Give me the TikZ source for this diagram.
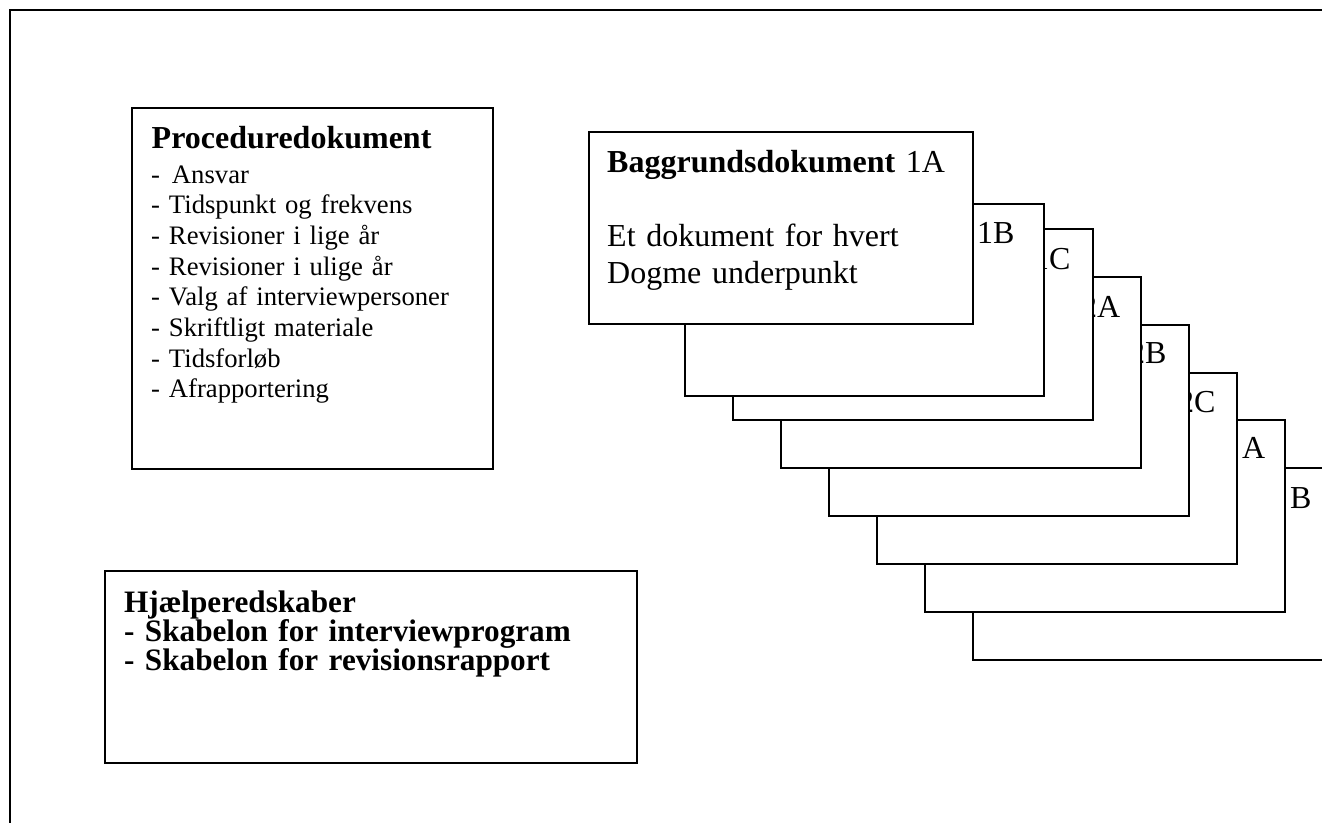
\documentclass[tikz,border=0pt]{standalone}
\usepackage{fontspec}
\setmainfont{Liberation Serif}
\usepackage{tikz}
\tikzstyle{docpage} = [rectangle, draw, line width=1.6pt, fill=white, inner sep=0pt, anchor=north west]
\tikzstyle{pagelabel} = [anchor=base west, inner sep=0pt, font=\fontsize{32}{37}\selectfont]
\tikzstyle{boxtext} = [anchor=base west, inner sep=0pt, align=left, text width=500pt]

\begin{document}
\begin{tikzpicture}[x=1pt, y=-1pt]
    \useasboundingbox (0,0) rectangle (1322,822);
    % ramme
    \draw[line width=2pt] (1330,10) -- (10,10) -- (10,830);

    % proceduredokument
    \node(proc)[docpage, minimum width=361pt, minimum height=361pt] at (131,107) {};
    \node(proctitle)[boxtext, font=\bfseries\fontsize{32}{37}\selectfont] at ([shift={(20.5,41)}]proc.north west) {Proceduredokument};
    \node(proclist)[boxtext, font=\fontsize{26.67}{30.7}\selectfont] at ([shift={(20,76)}]proc.north west) {- \kern3pt Ansvar\\- Tidspunkt og frekvens\\- Revisioner i lige år\\- Revisioner i ulige år\\- Valg af interviewpersoner\\- Skriftligt materiale\\- Tidsforløb\\- Afrapportering};

    % hjaelperedskaber
    \node(tools)[docpage, minimum width=532pt, minimum height=192pt] at (104,570) {};
    \node(toolstext)[boxtext, font=\bfseries\fontsize{31.2}{29}\selectfont] at ([shift={(20,42)}]tools.north west) {\lineskip=0pt\lineskiplimit=-20pt Hjælperedskaber\\- Skabelon for interviewprogram\\- Skabelon for revisionsrapport};

    % baggrundsdokumenter, bagfra
    \node(p8)[docpage, minimum width=360pt, minimum height=192pt] at (972,467) {};
    \node(lab8)[pagelabel] at ([shift={(318,41)}]p8.north west) {B};
    \node(p7)[docpage, minimum width=360pt, minimum height=192pt] at (924,419) {};
    \node(lab7)[pagelabel] at ([shift={(318,39)}]p7.north west) {A};
    \node(p6)[docpage, minimum width=360pt, minimum height=191pt] at (876,372) {};
    \node(lab6)[pagelabel] at ([shift={(302,40)}]p6.north west) {2C};
    \node(p5)[docpage, minimum width=360pt, minimum height=191pt] at (828,324) {};
    \node(lab5)[pagelabel] at ([shift={(301,39)}]p5.north west) {2B};
    \node(p4)[docpage, minimum width=360pt, minimum height=191pt] at (780,276) {};
    \node(lab4)[pagelabel] at ([shift={(301,41)}]p4.north west) {2A};
    \node(p3)[docpage, minimum width=360pt, minimum height=191pt] at (732,228) {};
    \node(lab3)[pagelabel] at ([shift={(301,41)}]p3.north west) {1C};
    \node(p2)[docpage, minimum width=359pt, minimum height=192pt] at (684,203) {};
    \node(lab2)[pagelabel] at ([shift={(293,40)}]p2.north west) {1B};
    \node(p1)[docpage, minimum width=384pt, minimum height=192pt] at (588,131) {};
    \node(bgtext)[boxtext, font=\fontsize{32}{37}\selectfont] at ([shift={(19,41)}]p1.north west) {\textbf{Baggrundsdokument} 1A\\[\baselineskip]Et dokument for hvert\\Dogme underpunkt};
\end{tikzpicture}
\end{document}
